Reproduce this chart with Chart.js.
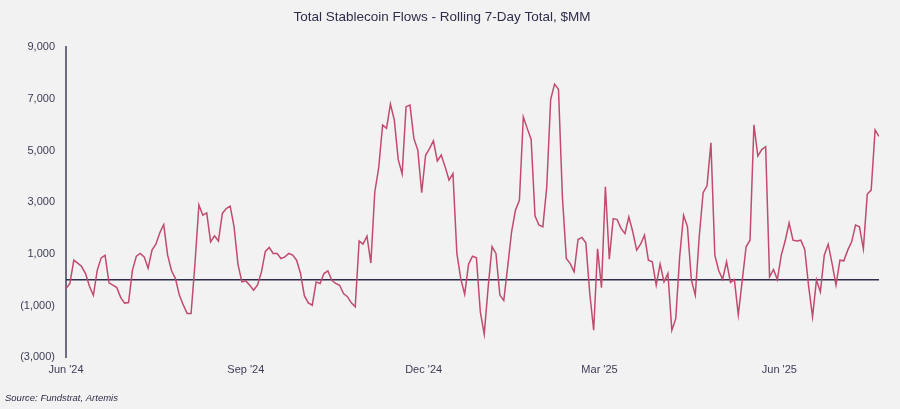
<!DOCTYPE html>
<html>
<head>
<meta charset="utf-8">
<script src="https://cdn.jsdelivr.net/npm/chart.js@4.4.0/dist/chart.umd.min.js"></script>
<style>
	html, body { margin: 0; padding: 0; background: #f2f2f2; }
	#wrap { width: 900px; height: 409px; position: relative; }
</style>
</head>
<body>
<div id="wrap"><canvas id="flows-chart"></canvas></div>
<script>
// rolling 7-day total, $MM, one reading every 2 days from 1 Jun 2024
const stepDays = 2;
const flowValues = [
	-335, -140, 760, 645, 515, 245, -250, -600, 375, 850,
	950, -115, -205, -300, -685, -900, -880, 375, 915, 1020,
	890, 450, 1150, 1380, 1820, 2140, 955, 350, 50, -590,
	-970, -1300, -1300, 630, 2900, 2500, 2590, 1470, 1700, 1500,
	2570, 2760, 2850, 2050, 600, -80, -40, -210, -400, -200,
	300, 1100, 1250, 1020, 1020, 825, 890, 1020, 955, 760,
	245, -620, -890, -980, -80, -140, 245, 350, -15, -140,
	-210, -530, -650, -890, -1045, 1500, 1380, 1690, 650, 3400,
	4330, 5990, 5860, 6800, 6180, 4650, 4100, 6700, 6760, 5470,
	5020, 3370, 4820, 5080, 5380, 4600, 4830, 4370, 3860, 4110,
	1020, 40, -555, 610, 915, 850, -1240, -2100, -300, 1280,
	1020, -590, -800, 500, 1860, 2700, 3080, 6300, 5860, 5430,
	2470, 2120, 2050, 3600, 6980, 7570, 7370, 3210, 825, 630,
	310, 1560, 1640, 1430, -530, -1950, 1200, -300, 3600, 800,
	2370, 2330, 1990, 1790, 2440, 1860, 1150, 1380, 1730, 760,
	700, -205, 610, -80, 245, -1950, -1500, 890, 2500, 2050,
	-15, -590, 1660, 3370, 3640, 5300, 955, 350, 25, 700,
	-100, 10, -1350, -40, 1280, 1535, 6000, 4790, 5040, 5150,
	115, 400, 10, 955, 1510, 2200, 1535, 1500, 1535, 1180,
	-250, -1430, 0, -465, 955, 1380, 630, -200, 760, 735,
	1150, 1470, 2120, 2050, 1200, 3320, 3470, 5800, 5550
];

// x ticks: days since 1 Jun 2024
const xTickDays = [0, 92, 183, 273, 365];
const xTickLabels = ["Jun '24", "Sep '24", "Dec '24", "Mar '25", "Jun '25"];
const yTicks = [-3000, -1000, 1000, 3000, 5000, 7000, 9000];

const fontFamily = 'Arial, "Liberation Sans", sans-serif';
const textColor = "#3d3d57";

const zeroLine = {
	id: "zeroLine",
	beforeDatasetsDraw(chart) {
		const { ctx, chartArea, scales } = chart;
		const y = scales.y.getPixelForValue(0);
		ctx.save();
		ctx.strokeStyle = "#2e2e4a";
		ctx.lineWidth = 1.5;
		ctx.beginPath();
		ctx.moveTo(chartArea.left, y);
		ctx.lineTo(chartArea.right, y);
		ctx.stroke();
		ctx.restore();
	},
};

function formatThousands(value) {
	const s = Math.abs(value).toLocaleString("en-US");
	return value < 0 ? "(" + s + ")" : s;
}

new Chart(document.getElementById("flows-chart"), {
	type: "line",
	data: {
		datasets: [
			{
				label: "Total Stablecoin Flows",
				data: flowValues.map((v, i) => ({ x: i * stepDays, y: v })),
				borderColor: "#c24a6e",
				borderWidth: 1.5,
				pointRadius: 0,
				tension: 0,
				fill: false,
			},
		],
	},
	plugins: [zeroLine],
	options: {
		animation: false,
		responsive: true,
		maintainAspectRatio: false,
		devicePixelRatio: 1,
		layout: {
			padding: { left: 5, right: 21, top: 0, bottom: 0 },
		},
		plugins: {
			legend: { display: false },
			tooltip: { enabled: false },
			title: {
				display: true,
				text: "Total Stablecoin Flows - Rolling 7-Day Total, $MM",
				color: "#2e2e4a",
				font: { family: fontFamily, size: 13.5, weight: "normal" },
				padding: { top: 9, bottom: 22 },
			},
			subtitle: {
				display: true,
				position: "bottom",
				align: "start",
				text: "Source: Fundstrat, Artemis",
				color: "#2e2e4a",
				font: { family: fontFamily, size: 9.5, style: "italic" },
				padding: { top: 10, bottom: 5 },
			},
		},
		scales: {
			x: {
				type: "linear",
				min: 0,
				max: (flowValues.length - 1) * stepDays,
				afterBuildTicks: (scale) => {
					scale.ticks = xTickDays.map((d) => ({ value: d }));
				},
				ticks: {
					autoSkip: false,
					maxRotation: 0,
					padding: 6,
					color: textColor,
					font: { family: fontFamily, size: 11 },
					callback: (value, index) => xTickLabels[index],
				},
				grid: { display: false, drawTicks: false },
				border: { display: false },
			},
			y: {
				min: -3000,
				max: 9000,
				afterBuildTicks: (scale) => {
					scale.ticks = yTicks.map((v) => ({ value: v }));
				},
				afterFit: (scale) => {
					scale.width = 61;
				},
				ticks: {
					padding: 11,
					color: textColor,
					font: { family: fontFamily, size: 11 },
					callback: (value) => formatThousands(value),
				},
				grid: { display: false, drawTicks: false },
				border: { display: true, color: "#6e6e82", width: 2 },
			},
		},
	},
});
</script>
</body>
</html>
